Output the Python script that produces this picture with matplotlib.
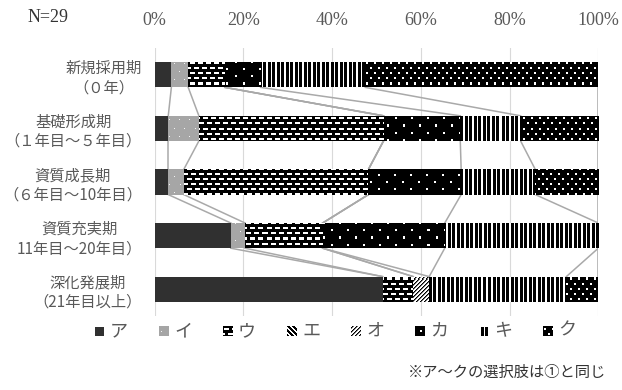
import numpy as np
import matplotlib
matplotlib.use('Agg')
import matplotlib.pyplot as plt

## data (percent of respondents)
stages = ['新規採用期\n（０年）', '基礎形成期\n（１年目～５年目）', '資質成長期\n（６年目～10年目）',
          '資質充実期\n11年目～20年目）', '深化発展期\n（21年目以上）']
choices = ['ア', 'イ', 'ウ', 'エ', 'オ', 'カ', 'キ', 'ク']
val_a = [3.8, 3.1, 3.1, 17.2, 51.4]
val_i = [3.8, 6.9, 3.5, 3.2, 0.0]
val_u = [8.3, 41.6, 41.6, 17.5, 6.9]
val_e = [0.0, 0.0, 0.0, 0.0, 0.0]
val_o = [0.0, 0.0, 0.0, 0.0, 3.6]
val_ka = [8.0, 17.3, 20.9, 27.5, 0.0]
val_ki = [23.6, 13.6, 16.7, 34.6, 30.9]
val_ku = [52.5, 17.5, 14.2, 0.0, 7.2]
xticks = [0, 20, 40, 60, 80, 100]

CJK = ['Noto Sans CJK JP', 'DejaVu Sans']
SERIF = ['Liberation Serif', 'DejaVu Serif']
TXT = '#595959'


## pixel textures, grey level 0..1
def make_tile(kind):
    if kind == 'a':
        return np.full((1, 1), 0.19)
    if kind == 'i':
        t = np.full((16, 10), 0.65)
        t[0, 0] = 0.95
        t[8, 5] = 0.95
        return t
    if kind == 'u':
        t = np.zeros((10, 8))
        t[0:2, 0:5] = 1
        t[5:7, 4:8] = 1
        t[5:7, 0] = 1
        return t
    if kind == 'e':
        t = np.ones((5, 5))
        for r in range(5):
            t[r, r] = 0
            t[r, (r + 1) % 5] = 0
            t[r, (r + 2) % 5] = 0
        return t
    if kind == 'o':
        t = np.ones((4, 4))
        for r in range(4):
            t[r, (3 - r) % 4] = 0
            t[r, (4 - r) % 4] = 0.45
        return t
    if kind == 'ka':
        t = np.zeros((14, 16))
        t[0:2, 0:2] = 1
        t[7:9, 8:10] = 1
        return t
    if kind == 'ki':
        return np.array([[0, 0, 0, 1, 1, 0, 0, 0, 1]], float)
    if kind == 'ku':
        t = np.zeros((10, 8))
        t[0:2, 0:2] = 1
        t[5:7, 4:6] = 1
        return t


def tiled(tile, w, h, dx=0, dy=0):
    th, tw = tile.shape
    big = np.tile(tile, (h // th + 2, w // tw + 2))
    return big[dy:dy + h, dx:dx + w]


kinds = ['a', 'i', 'u', 'e', 'o', 'ka', 'ki', 'ku']
base = ['#303030', '#a6a6a6', '#000000', '#000000', '#ffffff', '#000000', '#000000', '#000000']
data = np.array([val_a, val_i, val_u, val_e, val_o, val_ka, val_ki, val_ku])

fig = plt.figure(figsize=(6.22, 3.90), dpi=100)
W, H = 622, 390
ax = fig.add_axes([154.5 / W, 1 - 316 / H, (598.3 - 154.5) / W, (316 - 48) / H])

ypos = np.arange(len(stages))
h = 0.47
left = np.zeros(len(stages))
pw, ph = int(round(ax.bbox.width)), int(round(ax.bbox.height))
extent = (0, 100, len(stages) - 0.5, -0.5)

for k in range(len(choices)):
    bars = ax.barh(ypos, data[k], left=left, height=h, color=base[k], edgecolor='none', zorder=3)
    tex = tiled(make_tile(kinds[k]), pw, ph)
    for b, v in zip(bars, data[k]):
        if v <= 0:
            continue
        im = ax.imshow(tex, cmap='gray', vmin=0, vmax=1, extent=extent, aspect='auto',
                       interpolation='nearest', zorder=3.5)
        im.set_clip_path(b)
    left += data[k]

## series lines between bars
cum = np.cumsum(data, axis=0)
for i in range(len(stages) - 1):
    for k in range(len(choices)):
        ax.plot([cum[k, i], cum[k, i + 1]], [i + h / 2, i + 1 - h / 2],
                color='#a9a9a9', lw=1.1, zorder=2)

ax.set_xlim(0, 100)
ax.set_ylim(len(stages) - 0.5, -0.5)
ax.set_xticks(xticks)
ax.set_xticklabels([f'{v}%' for v in xticks], family=SERIF, fontsize=13, color=TXT)
ax.xaxis.tick_top()
ax.tick_params(axis='x', length=0, pad=14)
ax.set_yticks(ypos)
ax.set_yticklabels(stages, family=CJK, fontsize=11, color=TXT, linespacing=1.2)
for lbl in ax.get_yticklabels():
    lbl.set_multialignment('center')
ax.tick_params(axis='y', length=0, pad=9)
ax.grid(axis='x', color='#d9d9d9', lw=0.8, zorder=0)
ax.set_axisbelow(True)
for s in ax.spines.values():
    s.set_visible(False)

fig.text(28 / W, 1 - 18 / H, 'N=29', family=SERIF, fontsize=13, color='#333333', va='center')

## legend
for k, name in enumerate(choices):
    x0 = 95 + 64 * k
    icon = tiled(make_tile(kinds[k]), 10, 10, dx=3, dy=3)
    rgb = np.dstack([icon] * 3)
    fig.figimage(rgb, xo=x0, yo=H - 336, origin='upper', zorder=5)
    fig.text((x0 + 15) / W, 1 - 331 / H, name, family=CJK, fontsize=13, color=TXT, va='center')

fig.text(606 / W, 1 - 372 / H, '※ア～クの選択肢は①と同じ', family=CJK, fontsize=11,
         color='#333333', ha='right', va='center')

fig.savefig('out.png', dpi=100)
